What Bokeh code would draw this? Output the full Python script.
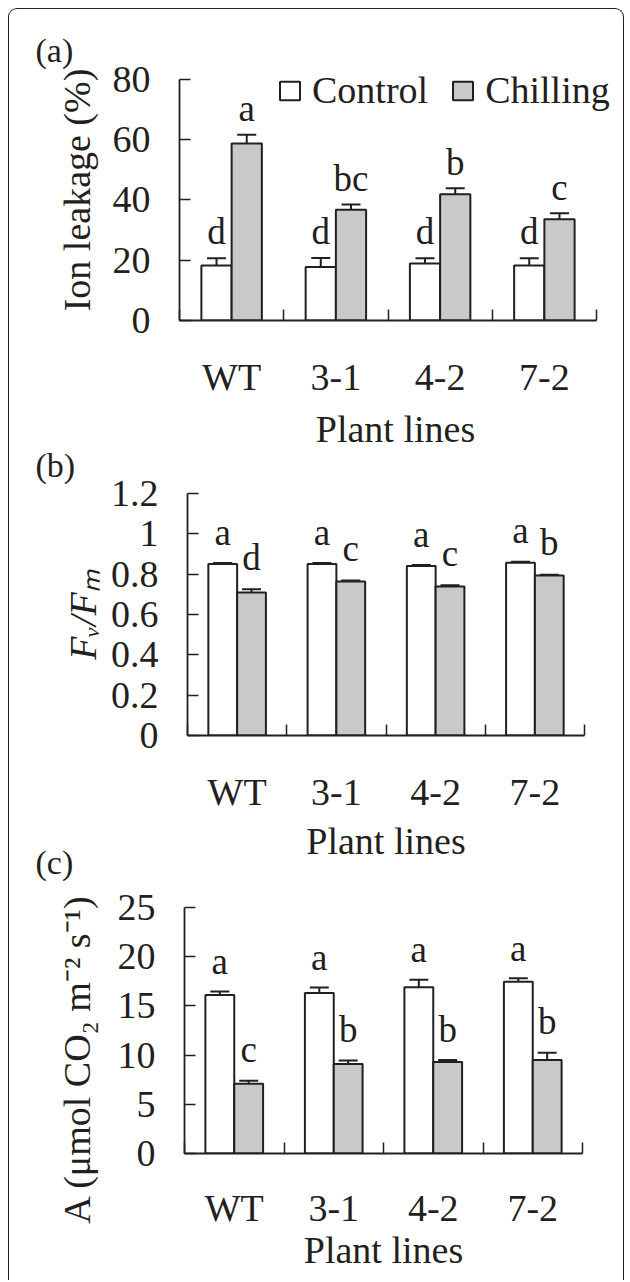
import numpy as np
from bokeh.plotting import figure
from bokeh.models import (ColumnDataSource, Whisker, TeeHead, FixedTicker, Legend,
                          LegendItem, NumeralTickFormatter)
from bokeh.layouts import column
from bokeh.embed import file_html
from bokeh.resources import INLINE
from bokeh.core.properties import value

# ---------------- data ----------------
lines = ["WT", "3-1", "4-2", "7-2"]

ion_control = [18.2, 17.7, 18.9, 18.2]
ion_control_err = [2.4, 3.0, 1.7, 2.4]
ion_chilling = [58.6, 36.7, 41.8, 33.5]
ion_chilling_err = [2.9, 1.7, 2.0, 2.0]
ion_control_letters = ["d", "d", "d", "d"]
ion_chilling_letters = ["a", "bc", "b", "c"]

fvfm_control = [0.850, 0.850, 0.840, 0.856]
fvfm_control_err = [0.005, 0.005, 0.005, 0.005]
fvfm_chilling = [0.709, 0.764, 0.739, 0.793]
fvfm_chilling_err = [0.016, 0.004, 0.006, 0.004]
fvfm_control_letters = ["a", "a", "a", "a"]
fvfm_chilling_letters = ["d", "c", "c", "b"]

a_control = [16.1, 16.3, 16.9, 17.45]
a_control_err = [0.37, 0.58, 0.76, 0.36]
a_chilling = [7.1, 9.1, 9.3, 9.5]
a_chilling_err = [0.3, 0.34, 0.2, 0.73]
a_control_letters = ["a", "a", "a", "a"]
a_chilling_letters = ["c", "b", "b", "b"]

ion_ticks = [0, 20, 40, 60, 80]
fvfm_ticks = [0, 0.2, 0.4, 0.6, 0.8, 1.0, 1.2]
a_ticks = [0, 5, 10, 15, 20, 25]

FONT = "Liberation Serif"
INK = "#231f20"
GRAY = "#c8c9cb"
BAR_W = 0.29
NB = "\u00a0"
LEFT, RIGHT = 170, 12   # common frame borders (column aligns plot frames)


def make_panel(ctrl, ctrl_err, chil, chil_err, ctrl_let, chil_let, xend, ytop, yticks,
               ylabel, tag, width, height, mtop, mbot, let_gap, tag_offset,
               tag_standoff, ylab_standoff, xl_standoff, xa_standoff,
               ylab_style="normal", fmt=None, styles=None):
    p = figure(width=width, height=height, x_range=(0, xend), y_range=(0, ytop),
               output_backend="svg", toolbar_location=None,
               min_border_left=LEFT, min_border_right=RIGHT,
               min_border_top=mtop, min_border_bottom=mbot,
               styles=styles or {})
    p.outline_line_color = None
    p.grid.visible = False
    p.background_fill_color = None
    p.border_fill_color = None

    p.title.text = tag
    p.title.align = "left"
    p.title.offset = tag_offset
    p.title.standoff = tag_standoff
    p.title.text_font = FONT
    p.title.text_font_size = "34px"
    p.title.text_font_style = "normal"
    p.title.text_color = INK

    centers = np.arange(len(lines)) + 0.5
    ctrl_hi = [v + e for v, e in zip(ctrl, ctrl_err)]
    ctrl_lo = [v - e for v, e in zip(ctrl, ctrl_err)]
    chil_hi = [v + e for v, e in zip(chil, chil_err)]
    chil_lo = [v - e for v, e in zip(chil, chil_err)]
    src = ColumnDataSource(dict(
        xc=centers - BAR_W / 2, xh=centers + BAR_W / 2,
        ctrl=ctrl, chil=chil, ctrl_hi=ctrl_hi, ctrl_lo=ctrl_lo,
        chil_hi=chil_hi, chil_lo=chil_lo, ctrl_let=ctrl_let, chil_let=chil_let))

    rc = p.vbar(x="xc", top="ctrl", width=BAR_W, source=src, fill_color="white",
                line_color=INK, line_width=2)
    rh = p.vbar(x="xh", top="chil", width=BAR_W, source=src, fill_color=GRAY,
                line_color=INK, line_width=2)

    for xk, lo, hi in (("xc", "ctrl_lo", "ctrl_hi"), ("xh", "chil_lo", "chil_hi")):
        w = Whisker(base=xk, lower=lo, upper=hi, source=src, line_color=INK,
                    line_width=2,
                    upper_head=TeeHead(size=19, line_color=INK, line_width=2),
                    lower_head=TeeHead(size=19, line_color=INK, line_width=2))
        p.add_layout(w)

    p.text(x="xc", y="ctrl_hi", text="ctrl_let", source=src, text_align="center",
           text_baseline="alphabetic", y_offset=-let_gap[0], text_font=value(FONT),
           text_font_size="37px", text_color=INK)
    p.text(x="xh", y="chil_hi", text="chil_let", source=src, text_align="center",
           text_baseline="alphabetic", y_offset=-let_gap[1], text_font=value(FONT),
           text_font_size="37px", text_color=INK)

    # x axis: labels at group centres, tick marks at group boundaries
    xa = p.xaxis[0]
    xa.ticker = FixedTicker(ticks=list(centers), minor_ticks=list(range(len(lines) + 1)))
    xa.bounds = (0, len(lines))
    xa.major_label_overrides = {float(c): lab for c, lab in zip(centers, lines)}
    xa.major_tick_line_color = None
    xa.major_tick_in = 0
    xa.major_tick_out = 0
    xa.minor_tick_in = 11
    xa.minor_tick_out = 0
    xa.minor_tick_line_color = INK
    xa.minor_tick_line_width = 1.5
    xa.axis_line_color = INK
    xa.axis_line_width = 1.8
    xa.major_label_standoff = xl_standoff
    xa.major_label_text_font = FONT
    xa.major_label_text_font_size = "38px"
    xa.major_label_text_color = INK
    xa.axis_label = "Plant lines"
    xa.axis_label_text_font = FONT
    xa.axis_label_text_font_size = "38px"
    xa.axis_label_text_font_style = "normal"
    xa.axis_label_text_color = INK
    xa.axis_label_standoff = xa_standoff

    ya = p.yaxis[0]
    ya.ticker = FixedTicker(ticks=yticks, minor_ticks=[])
    ya.bounds = (yticks[0], yticks[-1])
    if fmt is not None:
        ya.formatter = fmt
    ya.major_tick_in = 11
    ya.major_tick_out = 0
    ya.major_tick_line_color = INK
    ya.major_tick_line_width = 1.5
    ya.minor_tick_line_color = None
    ya.axis_line_color = INK
    ya.axis_line_width = 1.8
    ya.major_label_standoff = 29
    ya.major_label_text_font = FONT
    ya.major_label_text_font_size = "38px"
    ya.major_label_text_color = INK
    ya.axis_label = ylabel
    ya.axis_label_text_font = FONT
    ya.axis_label_text_font_size = "38px"
    ya.axis_label_text_font_style = ylab_style
    ya.axis_label_text_color = INK
    ya.axis_label_standoff = ylab_standoff
    return p, rc, rh


# panel (a): frame extends a little above/right of the axes so the legend fits inside
pa, rca, rha = make_panel(ion_control, ion_control_err, ion_chilling, ion_chilling_err,
                          ion_control_letters, ion_chilling_letters,
                          len(lines) * 432 / 417, ion_ticks[-1] * 261 / 241.5, ion_ticks,
                          "Ion leakage (%)", "(a)", 614, 453, 50, 142, (27, 26),
                          -144, -19, 12, 35, 7)
legend = Legend(items=[LegendItem(label="Control", renderers=[rca]),
                       LegendItem(label="Chilling", renderers=[rha])],
                orientation="horizontal", location=(98, 208),
                background_fill_alpha=0, border_line_color=None,
                glyph_width=25, glyph_height=23, label_standoff=10, spacing=22,
                padding=0, margin=0, label_text_font=FONT,
                label_text_font_size="38px", label_text_color=INK)
pa.add_layout(legend)

pb, _, _ = make_panel(fvfm_control, fvfm_control_err, fvfm_chilling, fvfm_chilling_err,
                      fvfm_control_letters, fvfm_chilling_letters, len(lines), 1.2,
                      fvfm_ticks, "F\u1d65/F\u2098", "(b)", LEFT + 397 + RIGHT, 443,
                      62, 139, (31, 32), -152, 19, 4, 35, 4, ylab_style="italic",
                      fmt=NumeralTickFormatter(format="0.[0]"),
                      styles={"margin-top": "-31px", "margin-left": "8px"})

pc, _, _ = make_panel(a_control, a_control_err, a_chilling, a_chilling_err,
                      a_control_letters, a_chilling_letters, len(lines), 25, a_ticks,
                      "A  (\u03bcmol CO\u2082 m\u207b\u00b2 s\u207b\u00b9)" + NB * 5,
                      "(c)", LEFT + 398 + RIGHT, 470, 97, 127, (30, 31), -149, 53, 17,
                      33, -3, styles={"margin-top": "-64px", "margin-left": "5px"})

lay = column(pa, pb, pc, styles={
    "border-top": "1.5px solid #231f20",
    "border-left": "1.5px solid #231f20",
    "border-right": "1.5px solid #231f20",
    "border-top-left-radius": "9px",
    "border-top-right-radius": "9px",
    "margin-top": "8px",
    "margin-left": "8px",
    "margin-bottom": "-14px",
})

open("out.html", "w").write(file_html(lay, INLINE))
